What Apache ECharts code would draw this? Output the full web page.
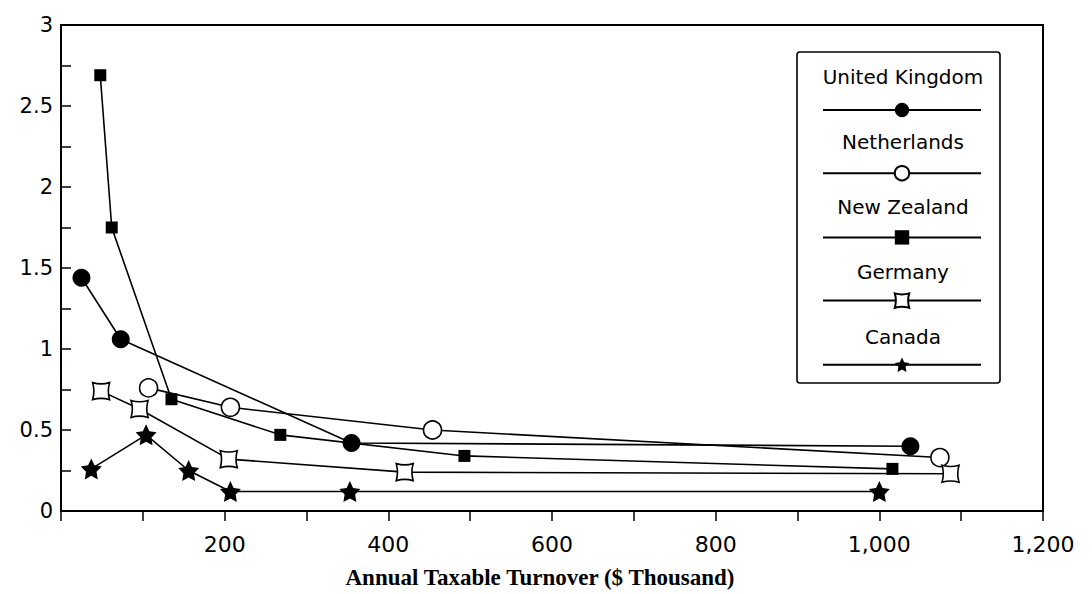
<!DOCTYPE html>
<html>
<head>
<meta charset="utf-8">
<script src="https://cdn.jsdelivr.net/npm/echarts@6/dist/echarts.min.js"></script>
<style>
  html, body { margin: 0; padding: 0; background: #fff; }
  #chart { width: 1092px; height: 594px; }
</style>
</head>
<body>
<div id="chart"></div>
<script>
// ---- data ----
const seriesNames = ['United Kingdom', 'Netherlands', 'New Zealand', 'Germany', 'Canada'];

const ukX = [25, 73, 355, 1038];
const ukY = [1.44, 1.06, 0.42, 0.40];

const nlX = [107, 207, 454, 1074];
const nlY = [0.76, 0.64, 0.50, 0.33];

const nzX = [48, 62, 135, 268, 493, 1016];
const nzY = [2.69, 1.75, 0.69, 0.47, 0.34, 0.26];

const deX = [49, 96, 205, 420, 1087];
const deY = [0.74, 0.63, 0.32, 0.24, 0.23];

const caX = [37, 104, 156, 207, 353, 1000];
const caY = [0.26, 0.47, 0.25, 0.12, 0.12, 0.12];

const xAxisTitle = 'Annual Taxable Turnover ($ Thousand)';

// ---- helpers ----
const pairs = (xs, ys) => xs.map((x, i) => [x, ys[i]]);
const STAR = 'path://M50,0 L64.7,29.8 L97.6,34.5 L73.8,57.7 L79.4,90.5 L50,75 L20.6,90.5 L26.2,57.7 L2.4,34.5 L35.3,29.8 Z';
const PINCH = 'path://M0,0 Q10,3 20,0 Q17,10 20,20 Q10,17 0,20 Q3,10 0,0 Z';
const SANS = '"DejaVu Sans", sans-serif';

const lineStyle = { color: '#000', width: 1.6 };
function mk(name, data, symbol, size, fill) {
  return {
    name, type: 'line', data, symbol, symbolSize: size,
    showAllSymbol: true,
    lineStyle: lineStyle,
    itemStyle: { color: fill, borderColor: '#000', borderWidth: fill === '#fff' ? 1.6 : 0 },
    emphasis: { disabled: true },
    z: 3
  };
}

const series = [
  mk(seriesNames[0], pairs(ukX, ukY), 'circle', 18, '#000'),
  mk(seriesNames[1], pairs(nlX, nlY), 'circle', 18, '#fff'),
  mk(seriesNames[2], pairs(nzX, nzY), 'rect', 12, '#000'),
  mk(seriesNames[3], pairs(deX, deY), PINCH, 17, '#fff'),
  mk(seriesNames[4], pairs(caX, caY), STAR, 21, '#000')
];

// legend layout
const legLeft = 797, legTop = 52, legPadTop = 49, legPadLeft = 25;
const itemW = 158, itemH = 18, itemPitch = 65;
const legendTexts = seriesNames.map((n, i) => ({
  type: 'text',
  x: legLeft + legPadLeft + itemW / 2 + 2,
  y: legTop + legPadTop + itemH / 2 + i * itemPitch - 33,
  style: {
    text: n, fill: '#000', font: '20px ' + SANS,
    textAlign: 'center', textVerticalAlign: 'middle'
  },
  z: 10
}));

const chart = echarts.init(document.getElementById('chart'), null, { renderer: 'svg' });
chart.setOption({
  animation: false,
  backgroundColor: '#fff',
  grid: {
    left: 61, top: 25, width: 982, height: 487,
    show: true, borderColor: '#000', borderWidth: 2, backgroundColor: 'transparent'
  },
  xAxis: {
    type: 'value', min: 0, max: 1200, interval: 100,
    axisLine: { show: true, lineStyle: { color: '#000', width: 2 } },
    axisTick: { show: true, inside: false, length: 10, lineStyle: { color: '#000', width: 1.5 } },
    axisLabel: {
      color: '#000', fontFamily: SANS, fontSize: 22, margin: 22,
      formatter: v => (v > 0 && v % 200 === 0 ? v.toLocaleString('en-US') : '')
    },
    splitLine: { show: false },
    name: xAxisTitle, nameLocation: 'middle', nameGap: 55,
    nameTextStyle: {
      color: '#000', fontFamily: '"Liberation Serif", serif', fontWeight: 'bold',
      fontSize: 23, padding: [0, 24, 0, 0]
    }
  },
  yAxis: {
    type: 'value', min: 0, max: 3, interval: 0.25,
    axisLine: { show: true, lineStyle: { color: '#000', width: 2 } },
    axisTick: { show: true, inside: true, length: 10, lineStyle: { color: '#000', width: 1.5 } },
    axisLabel: {
      color: '#000', fontFamily: SANS, fontSize: 21, margin: 8,
      formatter: v => (Math.round(v * 100) % 50 === 0 ? String(v) : '')
    },
    splitLine: { show: false }
  },
  legend: {
    orient: 'vertical', left: legLeft, top: legTop,
    padding: [legPadTop, 18, 11, legPadLeft],
    itemWidth: itemW, itemHeight: itemH, itemGap: itemPitch - itemH,
    data: seriesNames,
    formatter: () => '',
    textStyle: { fontSize: 10 },
    selectedMode: false,
    borderColor: '#000', borderWidth: 1.6, borderRadius: 3,
    backgroundColor: '#fff'
  },
  graphic: legendTexts,
  series: series
});
</script>
</body>
</html>
